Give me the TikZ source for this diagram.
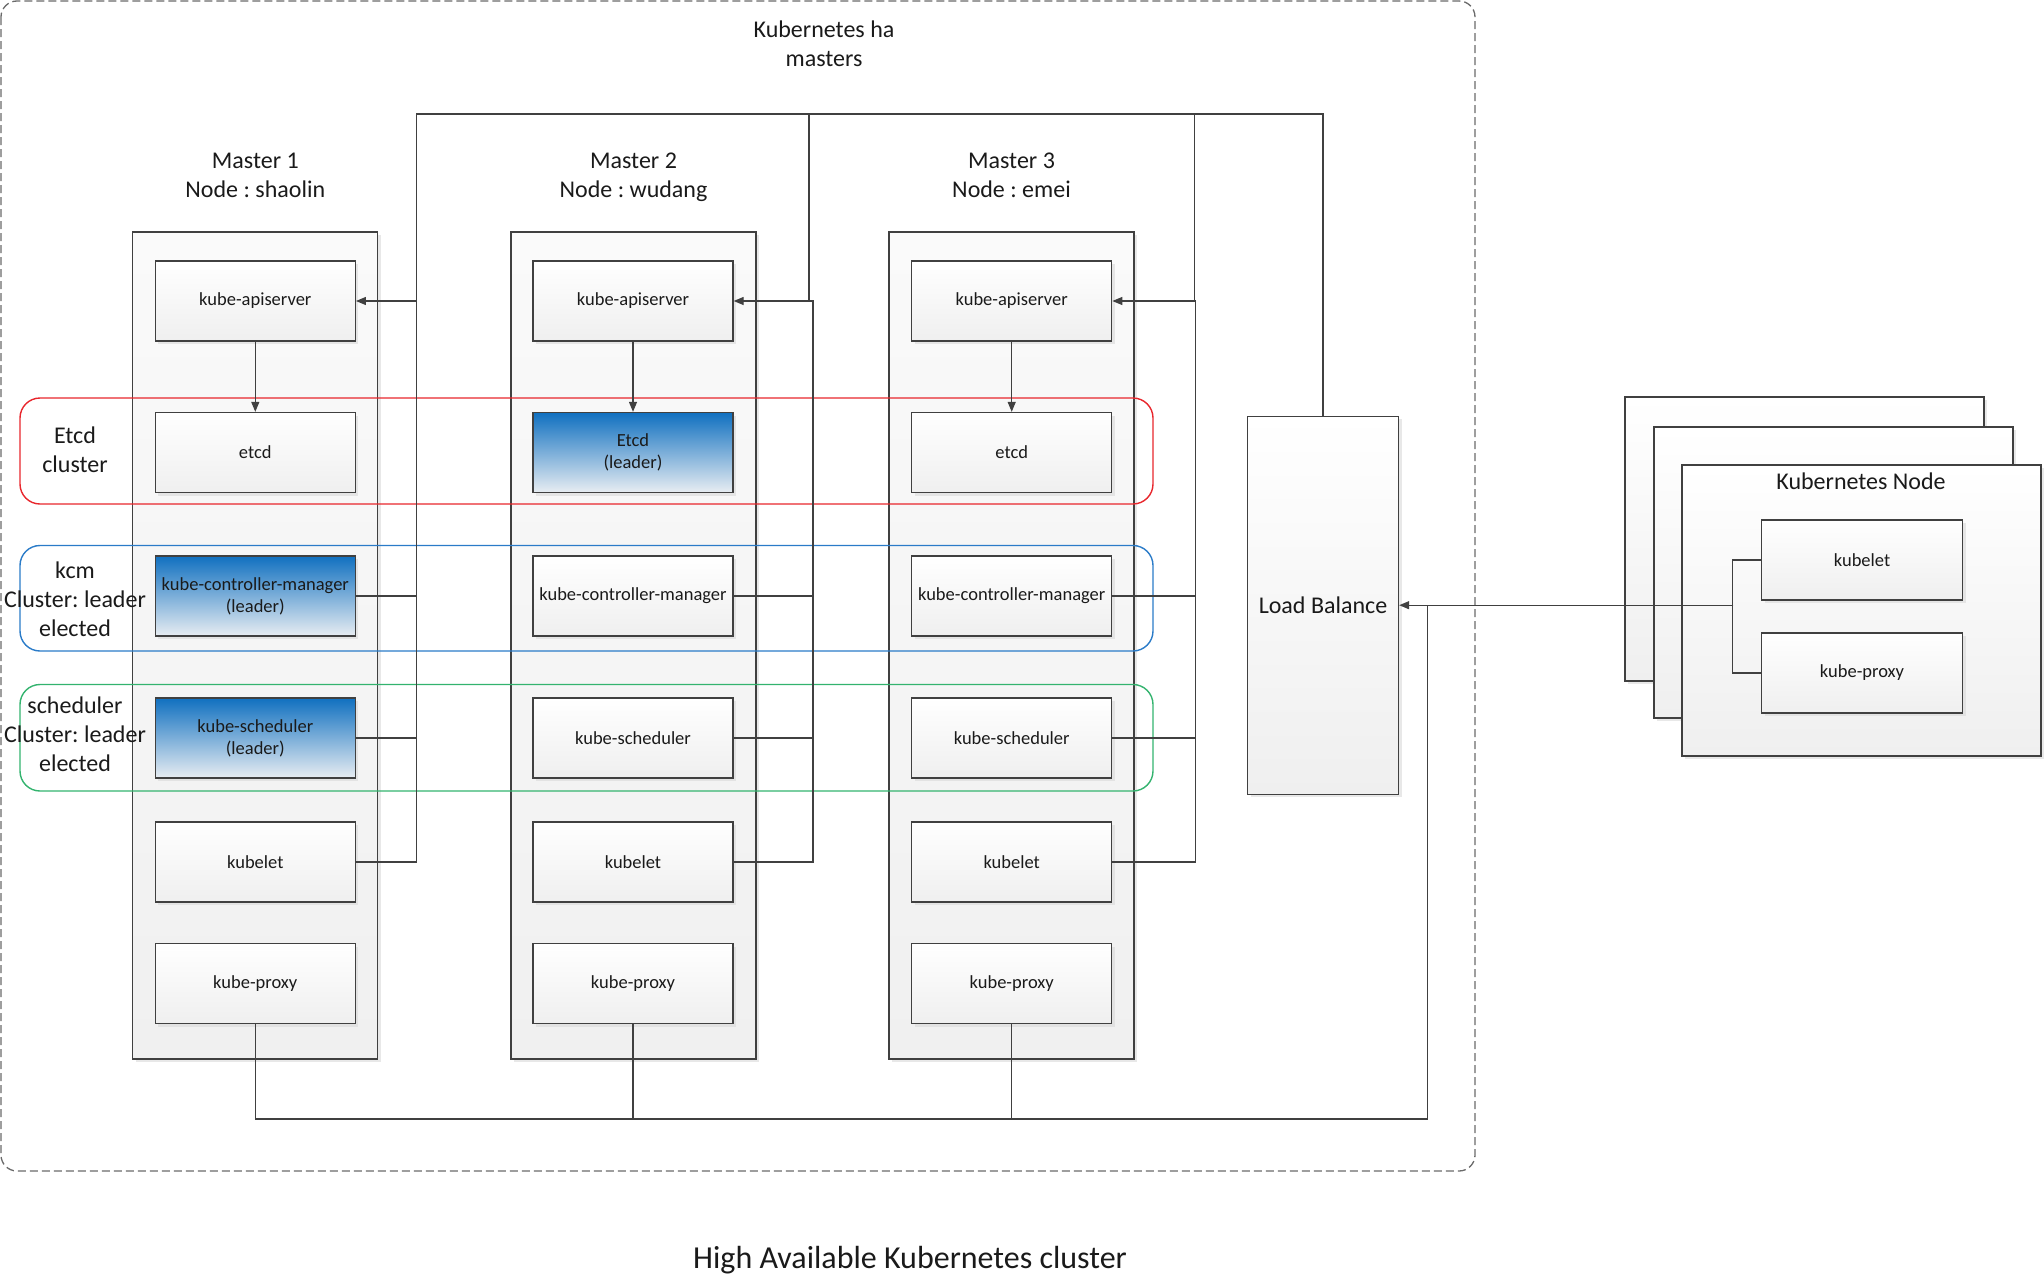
\documentclass[tikz,border=0pt]{standalone}
\usepackage{fontspec}
\setmainfont{Carlito}
\usetikzlibrary{arrows.meta,shadows}
\frenchspacing

\definecolor{ink}{HTML}{1A1A1A}
\definecolor{edge}{HTML}{404040}
\definecolor{boxlow}{HTML}{EFEFEF}
\definecolor{panelhi}{HTML}{FAFAFA}
\definecolor{panello}{HTML}{F0F0F0}
\definecolor{leadtop}{HTML}{1070C0}
\definecolor{leadlow}{HTML}{E8EDF2}
\definecolor{etcdred}{HTML}{E8262C}
\definecolor{kcmblue}{HTML}{2A7BC8}
\definecolor{schedgreen}{HTML}{33B36E}
\definecolor{framegray}{HTML}{6A6A6A}

\newcommand\smallfs{\fontsize{18.5}{22.2}\selectfont}
\newcommand\largefs{\fontsize{24}{29}\selectfont}
\newcommand\capfs{\fontsize{32}{38}\selectfont}

\tikzset{
  softshadow/.style={drop shadow={shadow xshift=3pt, shadow yshift=-3pt, fill=black!15, opacity=.6}},
  svc/.style={draw=edge, line width=1.3pt, top color=white, bottom color=boxlow,
    minimum width=200pt, minimum height=80pt, inner sep=0pt, align=center,
    font=\smallfs, text=ink, softshadow},
  leader/.style={svc, top color=leadtop, bottom color=leadlow},
  master/.style={draw=edge, line width=1.3pt, top color=panelhi, bottom color=panello,
    minimum width=245pt, minimum height=827pt, inner sep=0pt, softshadow},
  heading/.style={font=\largefs, text=ink, align=center, inner sep=0pt},
  clusterframe/.style={line width=1.4pt, rounded corners=20pt},
  conn/.style={draw=edge, line width=1.2pt},
  arr/.style={conn, -{Triangle[length=10pt,width=8pt]}},
}

\begin{document}
\begin{tikzpicture}[x=1pt,y=-1pt]
\useasboundingbox (0,0) rectangle (2044,1282);

% dashed frame around the master nodes
\draw[framegray, line width=1.3pt, dash pattern=on 8pt off 4pt, rounded corners=16pt]
  (1,1) rectangle (1475,1171);
\node[heading] (title) at (824,43.5) {Kubernetes ha\\masters};

% master columns
\node[master] (m1) at (255.3,645.5) {};
\node[master] (m2) at (633.5,645.5) {};
\node[master] (m3) at (1011.5,645.5) {};
\node[heading] (h1) at (255.3,177) {Master 1\strut\\Node : shaolin\strut};
\node[heading] (h2) at (633.5,177) {Master 2\strut\\Node : wudang\strut};
\node[heading] (h3) at (1011.5,177) {Master 3\strut\\Node : emei\strut};

% cluster frames
\draw[clusterframe, draw=etcdred] (20,398) rectangle (1153,504);
\draw[clusterframe, draw=kcmblue] (20,545.5) rectangle (1153,651);
\draw[clusterframe, draw=schedgreen] (20,684.5) rectangle (1153,791);
\node[heading] (etcdlbl) at (75,450) {Etcd\\cluster};
\node[heading] (kcmlbl) at (75,599) {kcm\\Cluster: leader\\elected};
\node[heading] (schedlbl) at (75,734) {scheduler\\Cluster: leader\\elected};

% components of master 1
\node[svc] (api1) at (255.3,301) {kube-apiserver};
\node[svc] (etcd1) at (255.3,452.5) {etcd};
\node[leader] (kcm1) at (255.3,596) {kube-controller-manager\\(leader)};
\node[leader] (sched1) at (255.3,738) {kube-scheduler\\(leader)};
\node[svc] (kubelet1) at (255.3,862) {kubelet};
\node[svc] (proxy1) at (255.3,983.5) {kube-proxy};

% components of master 2
\node[svc] (api2) at (633,301) {kube-apiserver};
\node[leader] (etcd2) at (633,452.5) {Etcd\\(leader)};
\node[svc] (kcm2) at (633,596) {kube-controller-manager};
\node[svc] (sched2) at (633,738) {kube-scheduler};
\node[svc] (kubelet2) at (633,862) {kubelet};
\node[svc] (proxy2) at (633,983.5) {kube-proxy};

% components of master 3
\node[svc] (api3) at (1011.7,301) {kube-apiserver};
\node[svc] (etcd3) at (1011.7,452.5) {etcd};
\node[svc] (kcm3) at (1011.7,596) {kube-controller-manager};
\node[svc] (sched3) at (1011.7,738) {kube-scheduler};
\node[svc] (kubelet3) at (1011.7,862) {kubelet};
\node[svc] (proxy3) at (1011.7,983.5) {kube-proxy};

% load balancer
\node[svc, minimum width=151pt, minimum height=378pt, font=\largefs] (lb) at (1323,605.2) {Load Balance};

% worker nodes, stacked
\node[svc, minimum width=359pt, minimum height=284pt] (nb1) at (1804.5,539) {};
\node[svc, minimum width=359pt, minimum height=291pt] (nb2) at (1833.5,572.5) {};
\node[svc, minimum width=359pt, minimum height=291pt] (nf) at (1861.5,610.5) {};
\node[heading] (nodetitle) at (1861,481) {Kubernetes Node};
\node[svc, minimum width=201pt] (nkubelet) at (1862,560) {kubelet};
\node[svc, minimum width=201pt] (nproxy) at (1862,673) {kube-proxy};

% apiserver -> etcd
\draw[arr] (api1.south) -- (etcd1.north);
\draw[arr] (api2.south) -- (etcd2.north);
\draw[arr] (api3.south) -- (etcd3.north);

% buses from the load balancer to each master
\coordinate (t1) at (416.5,114);
\coordinate (t2) at (809,114);
\coordinate (t3) at (1194.4,114);
\coordinate (b2) at (813,301);
\coordinate (b3) at (1195.5,301);
\draw[conn] (kubelet1.east) -| (t1) -- (t3) -| (lb.north);
\draw[conn] (t2) -- (t2 |- api2.east) -- (b2) |- (kubelet2.east);
\draw[conn] (t3) -- (t3 |- api3.east) -- (b3) |- (kubelet3.east);
\draw[arr] (t1 |- api1.east) -- (api1.east);
\draw[arr] (b2) -- (api2.east);
\draw[arr] (b3) -- (api3.east);
\draw[conn] (kcm1.east) -- (kcm1.east -| t1);
\draw[conn] (sched1.east) -- (sched1.east -| t1);
\draw[conn] (kcm2.east) -- (kcm2.east -| b2);
\draw[conn] (sched2.east) -- (sched2.east -| b2);
\draw[conn] (kcm3.east) -- (kcm3.east -| b3);
\draw[conn] (sched3.east) -- (sched3.east -| b3);

% kube-proxy return path
\coordinate (bc) at (1427.7,1119);
\draw[conn] (proxy1.south) |- (bc) -- (bc |- lb.east);
\draw[conn] (proxy2.south) -- (proxy2.south |- bc);
\draw[conn] (proxy3.south) -- (proxy3.south |- bc);

% worker node -> load balancer
\draw[conn] (nkubelet.west) -- ++(-28,0) |- (nproxy.west);
\coordinate (jn) at (1733.4,605.2);
\draw[arr] (jn) -- (lb.east);

\node[font=\capfs, text=ink, inner sep=0pt] (caption) at (910,1260) {High Available Kubernetes cluster};
\end{tikzpicture}
\end{document}
